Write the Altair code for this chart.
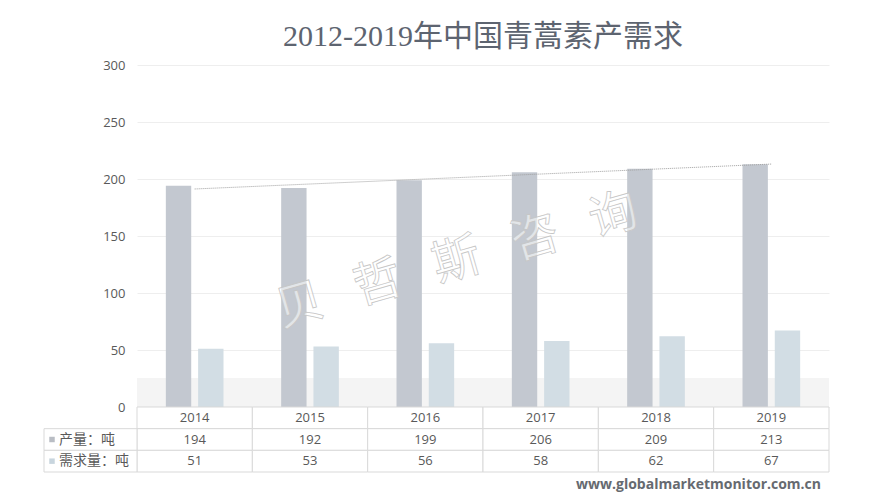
import altair as alt
import pandas as pd

years = [2014, 2015, 2016, 2017, 2018, 2019]
production = [194, 192, 199, 206, 209, 213]
demand = [51, 53, 56, 58, 62, 67]
series_names = ["产量：吨", "需求量：吨"]
bar_colors = ["#c3c8d0", "#d2dde4"]
square_colors = ["#b9bdc4", "#c8d5de"]
y_ticks = [0, 50, 100, 150, 200, 250, 300]
title_text = "2012-2019年中国青蒿素产需求"
watermark = "\u2002\u2009".join(["贝", "哲", "斯", "咨", "询"])
url_text = "www.globalmarketmonitor.com.cn"

W, H = 692, 342
TXT = "#595959"

long_rows = []
for y, p, d in zip(years, production, demand):
    long_rows.append({"year": y, "series": series_names[0], "value": p})
    long_rows.append({"year": y, "series": series_names[1], "value": d})
long_df = pd.DataFrame(long_rows)
wide_df = pd.DataFrame({"year": years, "production": production})
one = pd.DataFrame({"a": [0]})

x_enc = alt.X("year:O", scale=alt.Scale(paddingInner=0.5, paddingOuter=0.25), axis=None)
y_axis = alt.Axis(title=None, values=y_ticks, ticks=False, domain=False,
                  labelFont="Open Sans", labelFontSize=13, labelColor=TXT,
                  labelPadding=12, gridColor="#eeeeee", gridWidth=1)
y_scale = alt.Scale(domain=[0, 300], nice=False)

band = alt.Chart(one).mark_rect(color="#f4f4f4").encode(
    x=alt.value(0), x2=alt.value(W), y=alt.value(313), y2=alt.value(H))

bars = alt.Chart(long_df).mark_bar().encode(
    x=x_enc,
    xOffset=alt.XOffset("series:N", sort=series_names,
                        scale=alt.Scale(paddingInner=0.214, paddingOuter=0)),
    y=alt.Y("value:Q", scale=y_scale, axis=y_axis),
    color=alt.Color("series:N", scale=alt.Scale(domain=series_names, range=bar_colors),
                    legend=None),
)

trend = alt.Chart(wide_df).transform_regression("year", "production").mark_line(
    color="#a0a0a0", strokeWidth=1, strokeDash=[1, 1]).encode(
    x=x_enc,
    y=alt.Y("production:Q", scale=y_scale, axis=y_axis),
)

wm = alt.Chart(one).mark_text(
    font="Noto Sans CJK SC", fontSize=48, angle=344, align="center", baseline="middle",
    fill="white", fillOpacity=0.55, stroke="#c6c6c6", strokeWidth=0.8).encode(
    x=alt.value(320), y=alt.value(197), text=alt.value(watermark))

top = alt.layer(band, bars, trend, wm).properties(
    width=W, height=H,
    title=alt.TitleParams(title_text, font="Liberation Serif, Noto Sans CJK SC",
                          fontSize=30, fontWeight="normal", color="#5d6470",
                          anchor="middle", frame="group", offset=7),
)

# table
row_keys = ["h", "p", "d"]
cells = []
for y, p, d in zip(years, production, demand):
    cells.append({"year": y, "row": "h", "text": str(y)})
    cells.append({"year": y, "row": "p", "text": str(p)})
    cells.append({"year": y, "row": "d", "text": str(d)})
cells_df = pd.DataFrame(cells)
labels_df = pd.DataFrame({"row": ["p", "d"], "series": series_names})

tx = alt.X("year:O", scale=alt.Scale(paddingInner=0, paddingOuter=0), axis=None)
ty = alt.Y("row:N", sort=row_keys, scale=alt.Scale(domain=row_keys, paddingInner=0,
                                                   paddingOuter=0), axis=None)

cell_rect = alt.Chart(cells_df).mark_rect(fill="white", stroke="#d9d9d9",
                                          strokeWidth=1).encode(x=tx, y=ty)
cell_text = alt.Chart(cells_df).mark_text(font="Open Sans", fontSize=13,
                                          color=TXT).encode(x=tx, y=ty, text="text:N")
lab_rect = alt.Chart(labels_df).mark_rect(fill="white", stroke="#d9d9d9",
                                          strokeWidth=1).encode(
    x=alt.value(-93), x2=alt.value(0), y=ty)
lab_sq = alt.Chart(labels_df).mark_point(shape="square", filled=True, size=30,
                                         opacity=1).encode(
    x=alt.value(-85), y=ty,
    color=alt.Color("series:N", scale=alt.Scale(domain=series_names, range=square_colors),
                    legend=None))
lab_text = alt.Chart(labels_df).mark_text(font="Noto Sans CJK SC", fontSize=14,
                                          align="left", color=TXT).encode(
    x=alt.value(-78), y=ty, text="series:N")
url = alt.Chart(one).mark_text(font="Open Sans", fontSize=14, fontWeight="bold",
                               align="right", color="#666a70").encode(
    x=alt.value(684), y=alt.value(78), text=alt.value(url_text))

table = alt.layer(cell_rect, cell_text, lab_rect, lab_sq, lab_text, url).properties(
    width=W, height=65)

chart = alt.vconcat(top, table, spacing=0, bounds="flush").resolve_scale(
    color="independent").properties(
    padding={"left": 35, "top": 14, "right": 10, "bottom": 2}
).configure_view(stroke=None)

chart.save("out.html", embed_options={"renderer": "svg", "actions": False})
